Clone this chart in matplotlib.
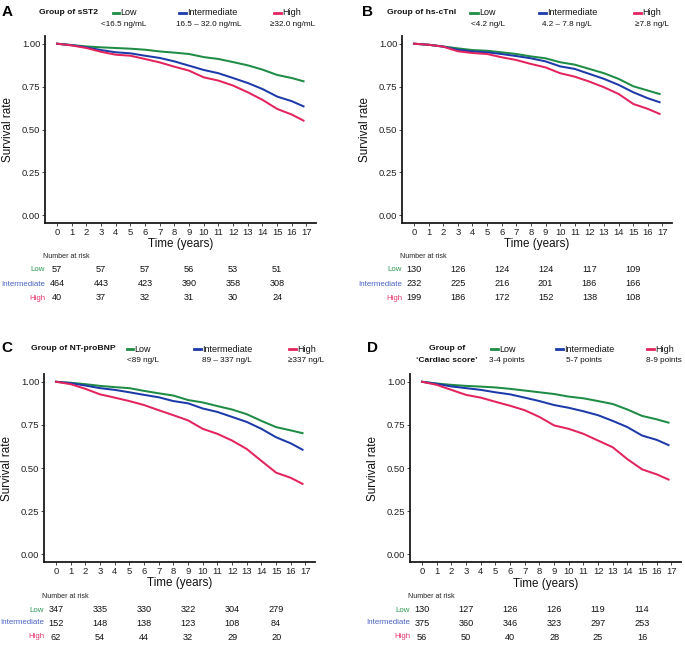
import matplotlib
matplotlib.use("Agg")
import matplotlib.pyplot as plt
import matplotlib.transforms as mtransforms
from matplotlib.lines import Line2D

plt.rcParams['font.family'] = ['Liberation Sans', 'DejaVu Sans']

W, H = 685, 646

# ---------------- data ----------------
times = [0, 1, 2, 3, 4, 5, 6, 7, 8, 9, 10, 11, 12, 13, 14, 15, 16, 16.8]

a_low = [1.000, 0.992, 0.984, 0.979, 0.975, 0.971, 0.965, 0.955, 0.948, 0.940,
         0.922, 0.911, 0.893, 0.874, 0.849, 0.818, 0.800, 0.781]
a_int = [1.000, 0.992, 0.979, 0.963, 0.950, 0.944, 0.930, 0.917, 0.897, 0.872,
         0.847, 0.828, 0.800, 0.771, 0.736, 0.692, 0.665, 0.635]
a_high = [1.000, 0.990, 0.975, 0.953, 0.936, 0.930, 0.911, 0.891, 0.866, 0.843,
          0.804, 0.785, 0.756, 0.717, 0.673, 0.620, 0.587, 0.552]

b_low = [1.000, 0.994, 0.984, 0.973, 0.963, 0.959, 0.950, 0.940, 0.926, 0.915,
         0.892, 0.878, 0.853, 0.828, 0.795, 0.752, 0.727, 0.707]
b_int = [1.000, 0.994, 0.983, 0.965, 0.955, 0.950, 0.940, 0.928, 0.915, 0.897,
         0.868, 0.853, 0.824, 0.795, 0.760, 0.717, 0.682, 0.659]
b_high = [1.000, 0.994, 0.983, 0.956, 0.946, 0.940, 0.921, 0.905, 0.882, 0.862,
          0.828, 0.808, 0.779, 0.746, 0.707, 0.649, 0.620, 0.591]

c_low = [1.000, 0.994, 0.986, 0.976, 0.969, 0.963, 0.947, 0.933, 0.920, 0.894,
         0.880, 0.859, 0.839, 0.812, 0.773, 0.737, 0.718, 0.702]
c_int = [1.000, 0.992, 0.978, 0.963, 0.953, 0.939, 0.924, 0.910, 0.888, 0.875,
         0.845, 0.825, 0.796, 0.767, 0.727, 0.678, 0.643, 0.606]
c_high = [1.000, 0.986, 0.959, 0.927, 0.908, 0.888, 0.865, 0.835, 0.806, 0.776,
          0.727, 0.698, 0.659, 0.610, 0.541, 0.473, 0.443, 0.408]

d_low = [1.000, 0.990, 0.982, 0.976, 0.972, 0.967, 0.959, 0.949, 0.939, 0.929,
         0.914, 0.904, 0.888, 0.871, 0.839, 0.802, 0.782, 0.763]
d_int = [1.000, 0.988, 0.973, 0.963, 0.953, 0.939, 0.927, 0.908, 0.888, 0.865,
         0.849, 0.829, 0.806, 0.773, 0.737, 0.688, 0.663, 0.633]
d_high = [1.000, 0.982, 0.953, 0.924, 0.908, 0.884, 0.861, 0.835, 0.796, 0.747,
          0.727, 0.698, 0.659, 0.620, 0.551, 0.492, 0.463, 0.433]

risk_times = [0, 3, 6, 9, 12, 15]
a_risk_low = [57, 57, 57, 56, 53, 51]
a_risk_int = [464, 443, 423, 390, 358, 308]
a_risk_high = [40, 37, 32, 31, 30, 24]
b_risk_low = [130, 126, 124, 124, 117, 109]
b_risk_int = [232, 225, 216, 201, 186, 166]
b_risk_high = [199, 186, 172, 152, 138, 108]
c_risk_low = [347, 335, 330, 322, 304, 279]
c_risk_int = [152, 148, 138, 123, 108, 84]
c_risk_high = [62, 54, 44, 32, 29, 20]
d_risk_low = [130, 127, 126, 126, 119, 114]
d_risk_int = [375, 360, 346, 323, 297, 253]
d_risk_high = [56, 50, 40, 28, 25, 16]

group_names = ["Low", "Intermediate", "High"]
a_sub = ["<16.5 ng/mL", "16.5 \u2013 32.0 ng/mL", "\u226532.0 ng/mL"]
b_sub = ["<4.2 ng/L", "4.2 \u2013 7.8 ng/L", "\u22657.8 ng/L"]
c_sub = ["<89 ng/L", "89 \u2013 337 ng/L", "\u2265337 ng/L"]
d_sub = ["3-4 points", "5-7 points", "8-9 points"]

xticks = list(range(0, 18))
yticks = [0.0, 0.25, 0.50, 0.75, 1.00]
ytick_labels = ["0.00", "0.25", "0.50", "0.75", "1.00"]

colors = ["#1e8c45", "#1c3aa9", "#e3245c"]
label_colors = ["#2f9a55", "#4a62c4", "#e6396b"]

fig = plt.figure(figsize=(W / 100, H / 100), dpi=100)


def fy(py):
    return 1 - py / H


def fx(px):
    return px / W


def make_panel(l, t, r, b, curves, risks, letter, title_lines, title_x, title_ha,
               keys, subs, sub_x, leg_y, rows_y):
    ax = fig.add_axes([l / W, 1 - b / H, (r - l) / W, (b - t) / H])
    for vals, c in zip(curves, colors):
        ax.plot(times, vals, color=c, lw=1.45, solid_joinstyle='miter')
    ax.set_xlim(-0.82, 17.65)
    ax.set_ylim(-0.045, 1.045)
    ax.set_xticks(xticks)
    ax.set_xticklabels([str(v) for v in xticks])
    ax.set_yticks(yticks)
    ax.set_yticklabels(ytick_labels)
    for s in ['top', 'right']:
        ax.spines[s].set_visible(False)
    for s in ['left', 'bottom']:
        ax.spines[s].set_color('#1a1a1a')
        ax.spines[s].set_linewidth(1.3)
    ax.tick_params(axis='both', length=2.2, width=0.7, color='#444444',
                   labelsize=6.8, labelcolor='#222222', pad=1.2)
    ax.set_ylabel("Survival rate", fontsize=8.4, color='#111111')
    ax.yaxis.set_label_coords(-31 / (r - l), 0.5)
    # x label
    ax.text(0.5, fy(rows_y[0]), "Time (years)", transform=mtransforms.blended_transform_factory(ax.transAxes, fig.transFigure),
            ha='center', va='center', fontsize=8.4, color='#111111')
    # number at risk
    tr = mtransforms.blended_transform_factory(ax.transData, fig.transFigure)
    ax.text(-0.95, fy(rows_y[1]), "Number at risk", transform=tr, ha='left', va='center',
            fontsize=5.1, color='#222222')
    for i, (nums, name) in enumerate(zip(risks, group_names)):
        yy = fy(rows_y[2 + i])
        ax.text(-0.8, yy, name, transform=tr, ha='right', va='center', fontsize=5.7,
                color=label_colors[i])
        for tt, n in zip(risk_times, nums):
            ax.text(tt, yy, str(n), transform=tr, ha='center', va='center', fontsize=6.6,
                    color='#111111')
    # panel letter
    fig.text(fx(letter[1]), fy(letter[2]), letter[0], ha='left', va='center',
             fontsize=11, fontweight='bold', color='black')
    # legend title
    for txt, ty in title_lines:
        fig.text(fx(title_x), fy(ty), txt, ha=title_ha, va='center', fontsize=6.1,
                 fontweight='bold', color='#111111')
    # legend keys
    for i, ((x0, x1), name) in enumerate(zip(keys, group_names)):
        fig.add_artist(Line2D([fx(x0), fx(x1)], [fy(leg_y), fy(leg_y)], color=colors[i],
                              lw=2.0, transform=fig.transFigure))
        fig.text(fx(x1 + 1.5), fy(leg_y), name, ha='left', va='center', fontsize=6.5,
                 color='#111111')
        fig.text(fx(sub_x[i]), fy(leg_y + 11.5), subs[i], ha='center', va='center',
                 fontsize=5.9, color='#111111')
    return ax


# Panel A
make_panel(45, 36, 316, 223, [a_low, a_int, a_high], [a_risk_low, a_risk_int, a_risk_high],
           ("A", 1.5, 12.5), [("Group of sST2", 12.5)], 39, 'left',
           [(113, 119), (179, 186), (274, 281)], a_sub, [124, 209, 293], 12.5,
           [244, 257, 270, 284, 298])
# Panel B
make_panel(402, 36, 672, 223, [b_low, b_int, b_high], [b_risk_low, b_risk_int, b_risk_high],
           ("B", 362, 12.5), [("Group of hs-cTnI", 12.5)], 387, 'left',
           [(470, 478), (539, 546), (634, 641)], b_sub, [488, 567, 652], 12.5,
           [244, 257, 270, 284, 298])
# Panel C
make_panel(44, 374, 315, 562, [c_low, c_int, c_high], [c_risk_low, c_risk_int, c_risk_high],
           ("C", 1.5, 348.5), [("Group of NT-proBNP", 349)], 31, 'left',
           [(127, 133), (194, 201), (289, 296)], c_sub, [143, 227, 306], 349,
           [583, 596, 610, 623, 637])
# Panel D
make_panel(410, 374, 681, 562, [d_low, d_int, d_high], [d_risk_low, d_risk_int, d_risk_high],
           ("D", 367, 348.5), [("Group of", 349), ("\u2018Cardiac score\u2019", 360.5)], 447, 'center',
           [(491, 498), (556, 563), (647, 654)], d_sub, [507, 584, 664], 349,
           [584, 596, 610, 623, 637])

fig.savefig("out.png", dpi=100)
